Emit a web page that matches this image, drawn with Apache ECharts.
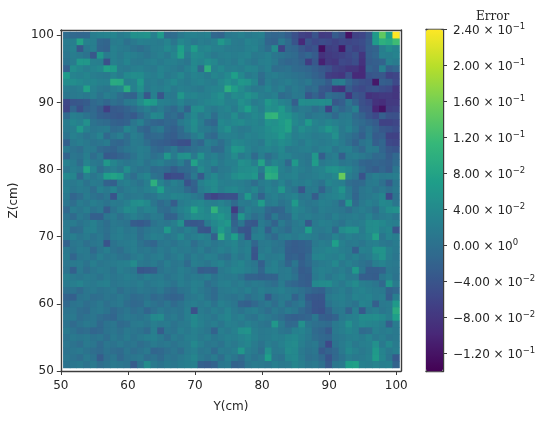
<!DOCTYPE html>
<html><head><meta charset="utf-8">
<style>html,body{margin:0;padding:0;background:#fff}#c{width:550px;height:421px;filter:blur(0.4px)}</style>
<script src="https://cdn.jsdelivr.net/npm/echarts@6/dist/echarts.min.js"></script>
</head><body><div id="c"></div>
<script>
// error values in thousandths; rows run from Z=100 (top) down to Z=51, columns from Y=51 to Y=100
const z100=[-5,-12,-15,-14,20,28,30,32,18,25,52,50,54,25,65,-8,-5,15,25,28,22,28,-14,-18,12,18,25,15,20,26,-12,-16,-12,-25,-45,-65,-70,-40,-75,-72,-30,-45,-120,-65,-60,-35,65,145,72,240];
const z99=[18,22,80,26,22,-14,-18,18,20,2,15,26,22,20,18,30,10,36,26,12,22,18,26,62,38,18,15,30,26,18,-16,-20,14,-8,-40,-95,-40,-55,-50,-55,-65,-55,-60,-55,-50,-30,65,100,90,120];
const z98=[15,26,-35,12,22,-16,-20,25,18,15,5,-4,8,20,22,40,26,72,30,68,30,36,25,26,18,18,16,25,30,12,-6,42,-62,-12,-16,-35,-50,-40,-125,-70,-65,-115,-50,-65,-55,-25,-20,22,42,30];
const z97=[10,20,15,5,-35,60,18,26,15,28,22,16,6,18,26,15,34,76,18,42,38,26,15,22,25,20,26,30,15,18,26,10,5,-4,-8,-25,-16,-30,-85,-75,-70,-65,-55,-45,-80,-25,-16,26,22,30];
const z96=[5,18,62,60,26,22,-45,25,18,32,15,12,20,26,16,25,26,18,10,38,30,46,36,18,22,15,30,18,10,22,26,15,-8,-16,-12,-20,-70,-35,-105,-75,-80,-55,-60,-50,-85,-30,-25,-20,26,18];
const z95=[-24,46,34,22,30,38,76,68,18,15,22,26,18,15,30,22,18,10,26,40,-12,100,26,38,22,26,20,34,30,15,25,-4,0,5,-8,-12,-16,-25,-35,-45,-65,-70,-80,-80,-95,-20,-30,26,-25,-16];
const z94=[65,30,25,34,22,18,15,30,16,40,46,44,26,20,32,15,22,36,18,30,25,16,34,26,40,72,38,15,22,-4,18,22,15,10,5,0,-8,-20,-30,-70,-75,-80,-45,-95,-95,-40,-35,-35,-65,-60];
const z93=[42,46,38,30,34,25,26,92,88,22,26,62,18,22,15,26,38,22,16,25,30,22,18,36,50,38,60,55,34,-8,22,10,16,22,12,5,15,-8,-12,-30,18,22,-16,-35,-45,-50,-115,-25,-30,-55];
const z92=[18,16,22,76,26,15,10,22,30,95,25,50,15,26,20,30,16,26,22,18,12,26,30,34,98,68,42,26,15,18,32,15,26,5,18,10,-12,-4,-35,-40,-80,-85,-30,-50,-55,-45,-40,-50,-55,-80];
const z91=[10,15,18,12,22,5,22,16,-4,-18,-20,26,-35,25,-38,16,12,60,30,34,26,25,38,50,22,42,38,55,42,22,18,26,-8,0,15,12,-38,-20,-40,-4,-12,-16,-80,-35,-45,-85,-80,-75,-75,-80];
const z90=[-58,-38,-35,-30,-12,-4,-16,0,-8,15,18,42,72,64,26,22,16,30,15,18,25,34,38,42,26,26,50,38,18,26,60,46,30,22,-25,46,42,42,46,42,-35,-25,10,-20,-45,-55,-85,-90,-75,-75];
const z89=[-62,-16,-46,-20,-12,-28,-68,-32,-28,-20,-8,10,22,5,18,0,-12,15,-20,42,46,22,15,26,34,18,42,72,38,22,50,46,64,34,5,18,15,-4,10,-65,5,-16,0,26,-40,-45,-100,-120,-70,-65];
const z88=[-12,22,18,5,-8,-24,-28,-32,-36,-24,-32,-12,10,38,34,-12,-4,-20,18,38,15,26,-4,26,22,46,18,26,38,30,105,110,60,55,34,22,5,15,18,10,-12,15,18,-8,-20,-40,-55,-25,-45,-45];
const z87=[18,34,26,50,5,-4,-8,-20,-24,-20,10,26,-4,-16,-20,-12,-16,15,26,46,22,-8,-16,38,30,38,42,30,34,26,55,50,64,78,38,26,64,30,22,34,26,18,22,0,-8,-20,-30,-65,-65,-60];
const z86=[15,22,62,26,10,15,18,-8,-4,34,18,-12,-20,5,15,-16,-24,-8,22,42,18,15,5,34,50,22,15,18,30,34,46,55,60,78,26,46,34,26,38,60,42,15,30,10,-16,0,-20,-35,-40,-50];
const z85=[5,26,18,5,15,30,-12,10,22,-4,22,15,-16,-12,-8,-24,-28,-12,-4,18,34,-4,-12,22,26,26,18,30,26,34,42,46,64,42,22,30,26,18,22,26,50,15,5,-8,-25,5,-30,-25,-65,-65];
const z84=[-24,15,22,15,5,10,18,-12,-16,-4,18,15,-4,-20,-24,-28,-36,-44,-48,-4,-16,22,15,-4,18,38,34,26,22,15,42,34,46,38,26,15,30,22,18,22,30,18,0,-20,5,15,-25,-16,-55,-60];
const z83=[15,5,-4,18,15,-8,-16,-20,-4,10,15,22,18,-8,-16,-4,15,-16,-8,0,10,15,-12,-8,26,60,55,30,18,26,34,26,38,15,18,22,26,15,26,30,10,22,26,5,-12,18,15,-16,-35,-40];
const z82=[-20,10,5,22,-4,15,-32,-28,-20,-12,5,22,15,0,10,60,18,50,55,15,55,18,26,10,22,42,15,26,-8,22,-4,15,34,30,18,15,10,60,-25,15,22,-25,18,22,15,5,-12,-8,-30,-12];
const z81=[26,18,-4,30,15,10,60,34,18,10,15,22,5,18,26,10,5,22,-8,76,30,22,34,15,26,26,50,42,22,80,15,34,26,-12,64,18,10,68,15,22,26,10,15,5,-16,-20,-16,-20,-25,-8];
const z80=[10,22,15,80,30,-4,15,22,10,46,15,5,10,-8,-4,-12,-28,-12,-8,5,42,22,-4,15,18,30,42,46,50,18,85,78,26,15,30,22,15,26,30,50,55,42,34,15,-4,-20,-28,-16,-28,10];
const z79=[38,34,-12,26,10,22,72,78,68,15,-4,22,34,5,-4,-58,-50,-50,-20,15,-32,22,38,18,26,46,55,50,60,-4,98,92,22,26,30,15,18,22,30,26,38,150,22,10,-42,10,22,15,18,22];
const z78=[18,15,22,5,18,15,-20,-24,18,26,15,5,22,100,30,10,26,15,-42,-20,26,38,42,26,22,26,22,15,-4,18,26,15,30,10,22,18,26,15,5,34,26,22,-4,-12,-8,15,18,0,-30,10];
const z77=[22,10,18,15,-4,26,15,30,5,18,22,15,26,34,72,22,18,15,-8,-24,18,30,42,22,34,38,26,18,34,10,30,22,60,18,5,-38,15,18,-20,15,30,55,15,-12,10,18,5,15,0,15];
const z76=[15,-16,-4,18,5,-4,10,-40,22,10,15,18,5,10,26,22,34,30,26,15,5,-50,-62,-50,-46,-46,10,64,15,-20,18,26,15,22,30,10,15,-28,18,26,30,38,18,-16,10,15,22,34,-55,5];
const z75=[10,-4,18,10,22,15,5,18,15,26,46,50,38,10,-8,5,-28,18,26,34,38,26,22,30,18,-8,18,15,26,68,18,22,5,15,64,18,10,15,26,22,15,-12,60,-8,15,26,18,38,34,10];
const z74=[-12,18,10,22,5,15,-28,5,22,42,38,18,30,26,-4,-8,10,26,38,80,46,34,105,42,38,-72,-4,26,15,18,-12,-20,-16,15,34,26,15,5,22,18,15,10,-4,15,22,15,-4,26,46,50];
const z73=[5,-8,15,5,-24,-24,10,18,0,15,26,15,5,18,15,-20,-20,15,30,46,42,38,50,60,42,-28,60,18,-4,10,-20,15,-12,-8,30,18,22,15,18,10,26,15,18,22,15,30,10,18,22,10];
const z72=[15,18,5,15,26,10,-4,15,10,5,-28,-32,-24,5,15,10,22,50,-32,-36,-32,18,38,50,60,-20,10,-32,-36,18,5,-20,18,0,15,22,-32,15,26,22,15,5,22,18,22,42,46,38,26,22];
const z71=[18,-8,-4,22,26,10,0,15,22,10,15,-4,10,18,15,64,18,10,26,15,-36,-40,26,64,38,-8,-36,-40,10,22,-24,15,5,-8,18,15,72,18,15,22,-12,42,55,55,18,42,46,26,34,-38];
const z70=[15,22,10,18,5,15,-4,18,22,15,18,-4,15,26,22,10,18,38,15,22,30,22,-24,100,34,72,15,-40,22,26,5,-12,18,22,15,26,22,18,5,10,30,15,26,18,22,34,76,10,30,22];
const z69=[-20,10,15,0,10,15,-40,5,15,18,22,5,-8,-16,10,15,5,18,22,-4,15,22,10,18,26,34,15,22,-16,15,18,10,5,-22,-28,-24,-18,15,22,18,72,26,15,18,10,22,26,15,10,18];
const z68=[15,5,18,15,-12,10,22,5,-4,15,22,10,15,5,18,10,22,15,18,10,22,5,15,26,18,30,18,26,-36,15,22,5,10,-24,-28,-26,-20,22,26,34,30,22,18,-25,26,22,55,55,26,15];
const z67=[18,-16,10,15,5,22,10,15,5,0,15,22,10,18,22,5,15,26,5,22,15,26,22,5,-4,22,10,22,-40,26,15,18,22,-24,-20,-30,-12,30,34,26,22,34,15,26,10,18,38,55,22,10];
const z66=[10,15,18,5,22,10,15,18,22,26,42,15,10,18,5,22,10,15,-8,22,18,10,22,30,15,26,34,18,10,-24,15,26,10,-18,10,-24,-12,10,18,22,38,15,26,15,5,-4,22,30,18,15];
const z65=[5,-24,15,-4,10,18,15,5,22,15,10,-36,-32,-28,5,15,10,22,15,5,-28,-24,-28,15,22,34,30,22,15,-16,22,26,15,18,-4,-30,-24,18,26,22,15,22,10,64,10,-25,-25,-20,15,10];
const z64=[22,15,10,18,15,5,18,10,15,22,18,10,22,15,18,5,15,22,10,18,15,22,5,18,15,18,5,-20,-20,-24,-20,-20,15,18,5,-26,-30,15,26,10,22,30,15,18,-25,-25,-28,10,22,5];
const z63=[15,22,30,18,15,22,26,10,15,18,15,22,10,18,22,15,5,22,15,26,22,-4,10,22,26,15,22,10,18,15,5,-4,18,-8,-16,-24,-28,38,42,46,26,15,30,42,22,18,10,-12,60,18];
const z62=[0,5,-8,10,15,5,10,15,-4,10,5,15,10,5,15,-4,-12,5,10,26,15,5,-8,15,18,22,15,26,10,22,15,18,26,15,10,0,-12,-20,-24,5,15,22,10,26,30,22,18,15,-20,-12];
const z61=[-20,-24,5,10,-4,0,10,5,15,5,-8,-4,5,-12,-4,-16,-20,-16,10,15,22,5,-8,15,10,5,15,-4,10,18,-30,5,15,18,-20,5,-32,-36,-36,15,22,26,15,30,26,30,18,22,-25,22];
const z60=[-12,5,10,-4,5,15,0,10,15,-4,-12,-8,15,5,-4,10,-8,5,18,22,15,22,5,26,18,10,-20,-24,-12,5,15,-4,18,-8,5,15,-20,-40,-40,5,18,22,15,5,30,26,-25,15,18,64];
const z59=[5,10,-4,-8,10,15,5,-12,0,10,-4,5,-16,0,15,5,10,5,22,-45,18,10,22,15,30,15,5,18,22,10,-4,15,5,18,10,-12,-24,-40,-44,-20,10,15,-20,22,-34,15,22,10,18,92];
const z58=[10,15,-4,5,10,-4,-12,-16,5,15,10,5,15,38,42,10,18,5,22,38,22,18,10,26,34,18,26,10,5,22,15,5,-4,-20,-24,-20,-16,10,-24,-28,-20,15,22,26,42,42,46,38,22,72];
const z57=[5,-8,5,15,10,-12,5,10,-8,-4,15,18,10,22,15,18,5,15,18,38,26,15,22,10,26,22,15,26,18,10,5,60,15,-12,-8,50,10,0,-4,-8,15,22,50,26,38,34,30,22,-25,18];
const z56=[15,5,-8,-4,-16,-12,5,10,0,15,10,5,-8,22,-28,10,5,22,15,26,18,10,-20,22,15,26,50,55,22,15,18,22,10,5,26,30,18,-8,-16,-32,15,22,34,26,-8,-4,26,18,22,15];
const z55=[5,15,10,15,5,10,-4,15,5,18,5,15,22,26,15,-4,18,10,22,26,15,22,10,18,26,22,30,38,26,15,18,26,22,34,38,26,15,-4,-12,-16,10,15,22,26,18,30,15,22,10,15];
const z54=[10,5,-4,15,10,-8,10,5,15,5,10,-4,5,18,10,15,5,15,18,38,22,10,15,5,22,15,26,34,18,5,22,15,26,38,42,22,10,15,-12,-55,5,18,30,15,22,26,50,15,38,18];
const z53=[5,10,15,5,-4,-8,5,-4,-8,10,-4,5,15,-16,-12,0,10,-4,18,26,10,15,-8,18,15,22,60,22,15,-4,50,15,18,42,38,15,5,10,-32,-20,-12,15,38,26,15,22,64,30,15,22];
const z52=[10,5,-4,15,5,-28,0,10,-12,5,10,15,-4,5,-8,10,5,15,22,34,15,5,18,-4,22,10,-8,18,5,15,72,10,5,34,38,18,0,5,-12,-40,-12,5,22,15,18,26,68,34,10,-32];
const z51=[5,10,15,5,15,-4,5,15,10,5,-28,5,42,15,5,15,10,18,22,26,-24,-28,-20,10,15,-20,-16,10,18,15,10,22,15,18,34,22,10,15,0,-32,10,15,70,75,26,22,30,22,26,-20];

const rows=[z100,z99,z98,z97,z96,z95,z94,z93,z92,z91,z90,z89,z88,z87,z86,z85,z84,z83,z82,z81,z80,z79,z78,z77,z76,z75,z74,z73,z72,z71,z70,z69,z68,z67,z66,z65,z64,z63,z62,z61,z60,z59,z58,z57,z56,z55,z54,z53,z52,z51];
const cellY=[51,52,53,54,55,56,57,58,59,60,61,62,63,64,65,66,67,68,69,70,71,72,73,74,75,76,77,78,79,80,81,82,83,84,85,86,87,88,89,90,91,92,93,94,95,96,97,98,99,100];
const cellZ=cellY.slice();
const axisTicks=[50,60,70,80,90,100];
const colorTicks=[0.24,0.20,0.16,0.12,0.08,0.04,0,-0.04,-0.08,-0.12];
const colorMantissa=['2.40','2.00','1.60','1.20','8.00','4.00','0.00','\u22124.00','\u22128.00','\u22121.20'];
const colorExponent=['\u22121','\u22121','\u22121','\u22121','\u22122','\u22122','0','\u22122','\u22122','\u22121'];
const colorMin=-0.14, colorMax=0.24;
const viridis=['#440154','#482878','#3e4989','#31688e','#26828e','#1f9e89','#35b779','#6ece58','#b5de2b','#fde725'];

const cells=[];
rows.forEach((row,r)=>row.forEach((v,c)=>cells.push([c,cellZ.length-1-r,v/1000])));

const font='DejaVu Sans', ink='#262626', spine='#3c3c3c', fs=12;
const line={show:true,onZero:false,lineStyle:{color:spine,width:1.4}};
const tick={show:true,length:4,lineStyle:{color:spine,width:1},customValues:axisTicks};
const plain=(grid,pos)=>({type:'value',gridIndex:grid,position:pos,min:0,max:1,axisLine:line,axisTick:{show:false},axisLabel:{show:false},splitLine:{show:false}});

const chart=echarts.init(document.getElementById('c'),null,{renderer:'canvas'});
chart.setOption({
  animation:false,
  backgroundColor:'#fff',
  title:{text:'Error',left:476,top:11,padding:0,textStyle:{fontFamily:'DejaVu Serif',fontSize:12,fontWeight:'normal',color:ink}},
  grid:[
    {left:60.5,top:30,width:340.5,height:341},
    {left:63.4,top:32,width:336,height:336,show:true,backgroundColor:'#2b788e',borderWidth:0},
    {left:426,top:29.5,width:17,height:342}
  ],
  xAxis:[
    {type:'value',gridIndex:0,min:50,max:100.7,name:'Y(cm)',nameLocation:'middle',nameGap:30,
     nameTextStyle:{fontFamily:font,fontSize:fs,color:ink},
     axisLine:line,axisTick:tick,splitLine:{show:false},
     axisLabel:{fontFamily:font,fontSize:fs,color:ink,margin:9,customValues:axisTicks}},
    plain(0,'top'),
    {type:'category',gridIndex:1,data:cellY,show:false},
    plain(2,'bottom'),
    plain(2,'top')
  ],
  yAxis:[
    {type:'value',gridIndex:0,min:50,max:100.8,name:'Z(cm)',nameLocation:'middle',nameGap:31,nameRotate:90,
     nameTextStyle:{fontFamily:font,fontSize:fs,color:ink},
     axisLine:line,axisTick:tick,splitLine:{show:false},
     axisLabel:{fontFamily:font,fontSize:fs,color:ink,margin:7,customValues:axisTicks}},
    plain(0,'right'),
    {type:'category',gridIndex:1,data:cellZ,show:false},
    plain(2,'left'),
    {type:'value',gridIndex:2,position:'right',min:colorMin,max:colorMax,
     axisLine:line,axisTick:{show:true,length:4,lineStyle:{color:spine,width:1},customValues:colorTicks},splitLine:{show:false},
     axisLabel:{customValues:colorTicks,margin:10,align:'left',
       formatter:(v)=>{const i=colorTicks.findIndex(t=>Math.abs(t-v)<1e-6);return '{m|'+colorMantissa[i]+' \u00d7 10}{e|'+colorExponent[i]+'}';},
       rich:{m:{fontFamily:font,fontSize:fs,color:ink,verticalAlign:'bottom',lineHeight:14},
             e:{fontFamily:font,fontSize:8.5,color:ink,verticalAlign:'top',lineHeight:14,padding:[0,0,5,0]}}}}
  ],
  visualMap:{type:'continuous',seriesIndex:0,min:colorMin,max:colorMax,calculable:false,itemWidth:17,itemHeight:342,
    left:426,top:29.5,padding:0,text:null,showLabel:false,inRange:{color:viridis},hoverLink:false},
  series:[{type:'heatmap',xAxisIndex:2,yAxisIndex:2,data:cells,progressive:0,emphasis:{disabled:true},itemStyle:{borderWidth:0}}]
});
</script></body></html>
